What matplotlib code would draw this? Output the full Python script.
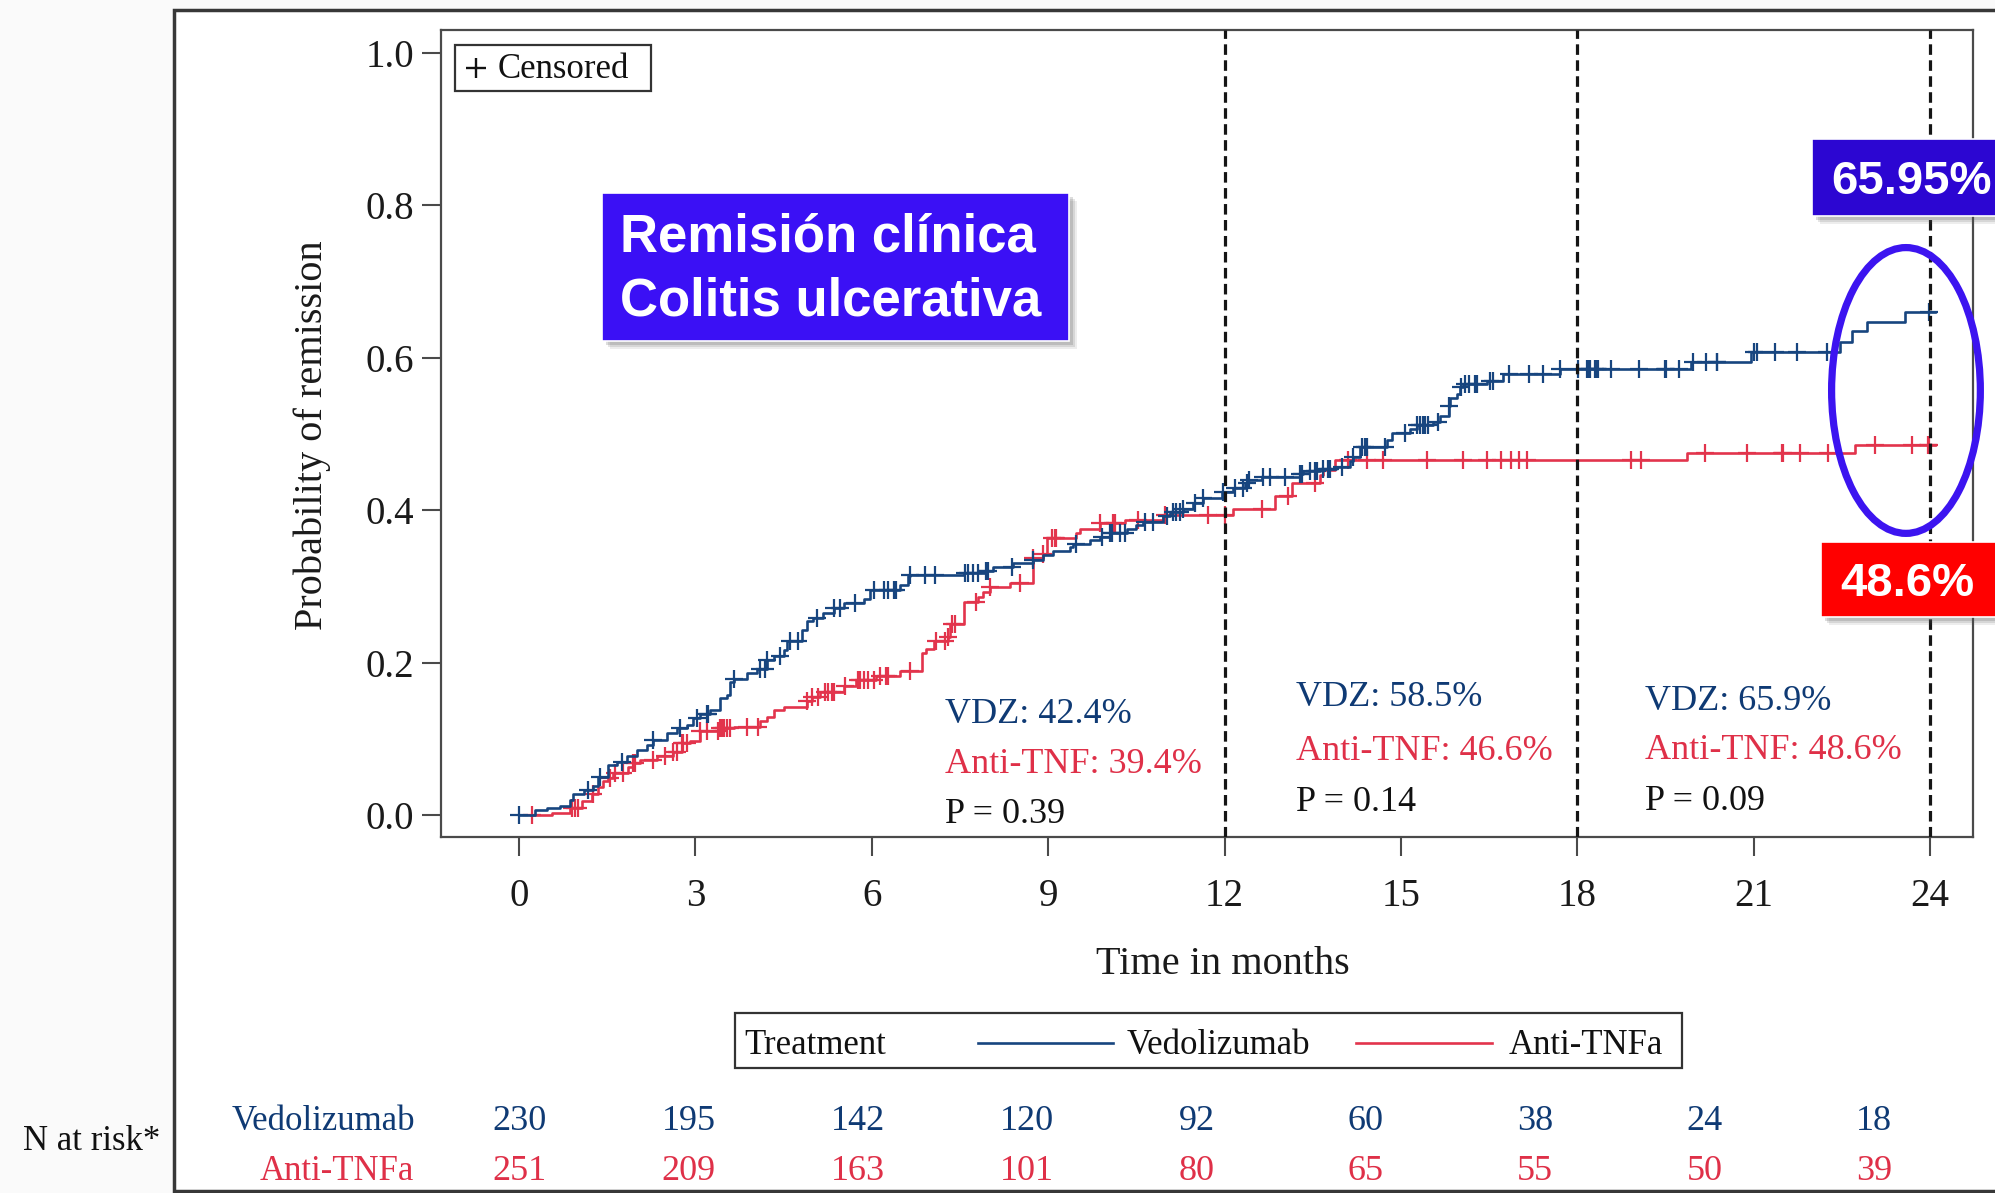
import numpy as np
import matplotlib
matplotlib.use('Agg')
import matplotlib.pyplot as plt
from matplotlib.patches import Rectangle, Ellipse
from matplotlib.lines import Line2D
from matplotlib.transforms import Affine2D

# ---------------- data ----------------
x_ticks = [0, 3, 6, 9, 12, 15, 18, 21, 24]
y_ticks = [0.0, 0.2, 0.4, 0.6, 0.8, 1.0]

vdz_time = [0, 0.27, 0.47, 0.70, 0.87, 0.92, 1.10, 1.26, 1.35, 1.52, 1.66, 1.83, 2.00, 2.17,
            2.28, 2.51, 2.68, 2.85, 2.96, 3.08, 3.25, 3.42, 3.53, 3.59, 3.65, 3.87, 4.04, 4.21,
            4.33, 4.50, 4.55, 4.81, 4.89, 5.00, 5.17, 5.35, 5.52, 5.86, 5.97, 6.48, 6.62, 6.65,
            7.56, 7.95, 8.07, 8.41, 8.75, 8.92, 9.09, 9.37, 9.43, 9.71, 9.88, 10.05, 10.34,
            10.50, 10.62, 10.96, 11.07, 11.30, 11.47, 11.64, 11.95, 12.15, 12.35, 12.40, 12.63,
            13.28, 13.34, 13.62, 13.90, 14.13, 14.19, 14.30, 14.76, 14.84, 15.16, 15.27, 15.55,
            15.67, 15.81, 15.84, 15.95, 16.00, 16.06, 16.46, 16.74, 17.70, 19.94, 20.96, 22.47,
            22.67, 22.93, 23.57]
vdz_prob = [0.0, 0.006, 0.009, 0.012, 0.020, 0.027, 0.033, 0.038, 0.050, 0.066, 0.070, 0.077,
            0.085, 0.092, 0.098, 0.107, 0.114, 0.118, 0.127, 0.133, 0.138, 0.153, 0.158, 0.175,
            0.178, 0.186, 0.192, 0.203, 0.208, 0.216, 0.228, 0.243, 0.254, 0.259, 0.265, 0.271,
            0.278, 0.284, 0.295, 0.302, 0.313, 0.315, 0.317, 0.320, 0.326, 0.330, 0.334, 0.341,
            0.346, 0.351, 0.356, 0.361, 0.365, 0.370, 0.375, 0.380, 0.385, 0.392, 0.398, 0.402,
            0.409, 0.416, 0.424, 0.429, 0.435, 0.440, 0.443, 0.448, 0.451, 0.454, 0.457, 0.464,
            0.470, 0.483, 0.492, 0.501, 0.507, 0.512, 0.516, 0.523, 0.536, 0.547, 0.553, 0.562,
            0.566, 0.570, 0.578, 0.585, 0.595, 0.607, 0.620, 0.635, 0.647, 0.660]
vdz_end = 24.08

tnf_time = [0.20, 0.56, 0.87, 1.07, 1.24, 1.35, 1.43, 1.52, 1.60, 1.86, 1.94, 2.06, 2.34, 2.62,
            2.77, 2.91, 3.08, 3.42, 3.65, 4.10, 4.21, 4.33, 4.50, 4.89, 4.98, 5.12, 5.52, 5.74,
            6.08, 6.48, 6.85, 6.93, 7.05, 7.30, 7.33, 7.56, 7.81, 7.90, 8.01, 8.35, 8.75, 8.92,
            8.98, 9.48, 9.54, 9.88, 10.31, 10.96, 12.15, 12.86, 13.14, 13.62, 13.68, 13.88,
            19.86, 22.72]
tnf_prob = [0.0, 0.003, 0.009, 0.018, 0.028, 0.037, 0.044, 0.048, 0.055, 0.063, 0.068, 0.072,
            0.077, 0.083, 0.094, 0.097, 0.110, 0.114, 0.116, 0.123, 0.129, 0.138, 0.142, 0.149,
            0.155, 0.162, 0.169, 0.177, 0.182, 0.189, 0.212, 0.218, 0.228, 0.234, 0.251, 0.280,
            0.286, 0.293, 0.299, 0.304, 0.337, 0.343, 0.363, 0.370, 0.375, 0.383, 0.387, 0.394,
            0.402, 0.418, 0.435, 0.446, 0.453, 0.466, 0.475, 0.486]
tnf_end = 24.08

vdz_censor = [0.0, 1.18, 1.38, 1.75, 2.28, 2.74, 3.02, 3.19, 3.22, 3.65, 4.10, 4.18, 4.21, 4.44,
              4.61, 4.75, 5.06, 5.35, 5.46, 5.71, 6.03, 6.20, 6.28, 6.37, 6.42, 6.65, 6.91, 7.07,
              7.59, 7.64, 7.73, 7.81, 7.95, 7.98, 8.38, 8.75, 9.48, 9.91, 10.05, 10.08, 10.22,
              10.31, 10.65, 10.79, 11.02, 11.13, 11.18, 11.24, 11.30, 11.50, 11.64, 11.98, 12.18,
              12.32, 12.38, 12.41, 12.66, 12.77, 13.03, 13.28, 13.31, 13.45, 13.54, 13.57, 13.68,
              13.76, 13.79, 13.99, 14.19, 14.33, 14.39, 14.42, 14.73, 15.07, 15.27, 15.32, 15.38,
              15.41, 15.46, 15.63, 15.81, 16.03, 16.09, 16.15, 16.26, 16.29, 16.51, 16.57, 16.83,
              17.17, 17.42, 17.70, 18.01, 18.16, 18.19, 18.21, 18.30, 18.33, 18.36, 18.58, 19.05,
              19.49, 19.50, 19.73, 19.97, 20.19, 20.37, 20.38, 21.00, 21.05, 21.36, 21.73, 22.24,
              23.99]
tnf_censor = [0.22, 0.90, 0.95, 1.01, 1.26, 1.55, 1.63, 1.77, 1.94, 1.97, 2.28, 2.48, 2.62, 2.68,
              2.77, 2.79, 2.85, 3.08, 3.19, 3.39, 3.42, 3.45, 3.48, 3.53, 3.59, 3.87, 4.07, 4.89,
              4.98, 5.09, 5.20, 5.26, 5.32, 5.35, 5.54, 5.77, 5.80, 5.86, 5.94, 6.03, 6.14, 6.25,
              6.28, 6.65, 7.10, 7.25, 7.30, 7.36, 7.41, 7.78, 8.01, 8.52, 8.75, 8.92, 9.06, 9.12,
              9.14, 9.88, 10.11, 10.14, 10.53, 10.98, 11.72, 12.01, 12.63, 13.08, 13.54, 14.10,
              14.42, 14.70, 15.44, 16.06, 16.46, 16.71, 16.88, 17.00, 17.14, 18.92, 19.09, 20.17,
              20.88, 21.48, 21.49, 21.79, 22.27, 23.06, 23.69, 23.97, 23.99]

landmarks = [12, 18, 24]
vdz_labels = ['VDZ: 42.4%', 'VDZ: 58.5%', 'VDZ: 65.9%']
tnf_labels = ['Anti-TNF: 39.4%', 'Anti-TNF: 46.6%', 'Anti-TNF: 48.6%']
p_labels = ['P = 0.39', 'P = 0.14', 'P = 0.09']

risk_months = [0, 3, 6, 9, 12, 15, 18, 21, 24]
risk_vdz = [230, 195, 142, 120, 92, 60, 38, 24, 18]
risk_tnf = [251, 209, 163, 101, 80, 65, 55, 50, 39]

title_lines = ['Remisión clínica', 'Colitis ulcerativa']
vdz_final_label = '65.95%'
tnf_final_label = '48.6%'

# ---------------- style ----------------
BLUE = '#17457f'
RED = '#e2344c'
BLUE_T = '#0f3a74'
RED_T = '#df3048'
SERIF = ['Liberation Serif', 'DejaVu Serif']
SANS = ['Liberation Sans', 'DejaVu Sans']

W, H = 1995, 1193
fig = plt.figure(figsize=(W / 100, H / 100), dpi=100)
fig.patch.set_facecolor('#fafafa')
PX = Affine2D().scale(1.0 / W, -1.0 / H).translate(0, 1) + fig.transFigure

# outer frame
fig.add_artist(Rectangle((174, 10), W - 174 + 20, 1181, transform=PX, facecolor='white',
                         edgecolor='#383838', lw=2.5, zorder=-5))

# main axes
ax = fig.add_axes([441 / W, 1 - 837 / H, (1973 - 441) / W, (837 - 30) / H])
ax.set_xlim(-1.327, 24.73)
ax.set_ylim(-0.0289, 1.030)
for s in ax.spines.values():
    s.set_color('#4a4a4a')
    s.set_linewidth(1.6)
ax.set_xticks(x_ticks)
ax.set_xticklabels([str(v) for v in x_ticks])
ax.set_yticks(y_ticks)
ax.set_yticklabels(['%.1f' % v for v in y_ticks])
ax.tick_params(direction='out', length=13.5, width=1.5, color='#4a4a4a', labelsize=28,
               labelcolor='#1a1a1a')
ax.tick_params(axis='y', pad=6)
ax.tick_params(axis='x', pad=16)
for lab in ax.get_xticklabels() + ax.get_yticklabels():
    lab.set_family(SERIF)

# step curves
def step_at(times, probs, t):
    times = np.asarray(times)
    probs = np.asarray(probs)
    idx = np.searchsorted(times, t, side='right') - 1
    return probs[np.clip(idx, 0, len(probs) - 1)]

tv = np.append(vdz_time, vdz_end)
pv = np.append(vdz_prob, vdz_prob[-1])
tt = np.append(tnf_time, tnf_end)
pt = np.append(tnf_prob, tnf_prob[-1])
ax.step(tt, pt, where='post', color=RED, lw=1.9, zorder=3)
ax.step(tv, pv, where='post', color=BLUE, lw=1.9, zorder=4)
ax.plot(tnf_censor, step_at(tnf_time, tnf_prob, tnf_censor), ls='none', marker='+', ms=13,
        mew=1.6, color=RED, zorder=3)
ax.plot(vdz_censor, step_at(vdz_time, vdz_prob, vdz_censor), ls='none', marker='+', ms=13,
        mew=1.6, color=BLUE, zorder=4)

# landmark dashed lines
for m in landmarks:
    ax.axvline(m, color='#151515', lw=2.3, dashes=(3.3, 1.7), zorder=5)

# landmark annotations
ann_pos = [(7.24, 0.132, 0.066, 0.001), (13.21, 0.154, 0.083, 0.016), (19.15, 0.149, 0.085, 0.018)]
for (x, y1, y2, y3), a, b, c in zip(ann_pos, vdz_labels, tnf_labels, p_labels):
    ax.text(x, y1, a, color=BLUE_T, fontsize=26, family=SERIF, va='center', ha='left')
    ax.text(x, y2, b, color=RED_T, fontsize=26, family=SERIF, va='center', ha='left')
    ax.text(x, y3, c, color='#111111', fontsize=26, family=SERIF, va='center', ha='left')

# ellipse highlight
ax.add_patch(Ellipse((23.59, 0.557), 2.53, 0.375, fill=False, edgecolor='#3c14f0', lw=5.2,
                     clip_on=False, zorder=8))

# axis labels
fig.text(312 / W, 1 - 435 / H, 'Probability of remission', rotation=90, ha='center', va='center',
         fontsize=29, family=SERIF, color='#1a1a1a')
fig.text(1223 / W, 1 - 964 / H, 'Time in months', ha='center', va='center', fontsize=29,
         family=SERIF, color='#1a1a1a')

# censored legend
fig.add_artist(Rectangle((455, 45), 196, 46, transform=PX, facecolor='white', edgecolor='#333333',
                         lw=1.6, zorder=6))
fig.add_artist(Line2D([476], [68], transform=PX, marker='+', ms=14, mew=1.7, color='#111111',
                      ls='none', zorder=7))
fig.text(498 / W, 1 - 70 / H, 'Censored', ha='left', va='center', fontsize=25, family=SERIF,
         color='#111111', zorder=7)

# shaded boxes helper
def shadow_box(x, y, w, h, fc):
    for off, al in [(8, 0.10), (6, 0.15), (4, 0.2)]:
        fig.add_artist(Rectangle((x + off, y + off), w, h, transform=PX, facecolor='#555555',
                                 edgecolor='none', alpha=al, zorder=9))
    fig.add_artist(Rectangle((x, y), w, h, transform=PX, facecolor=fc, edgecolor='white',
                             lw=1.2, zorder=10))

shadow_box(602, 193, 467, 148, '#3b10f5')
fig.text(620 / W, 1 - 238 / H, title_lines[0], ha='left', va='center', fontsize=38,
         fontweight='bold', family=SANS, color='white', zorder=11)
fig.text(620 / W, 1 - 301 / H, title_lines[1], ha='left', va='center', fontsize=38,
         fontweight='bold', family=SANS, color='white', zorder=11)

shadow_box(1812, 139, 200, 77, '#2c06d2')
fig.text(1831 / W, 1 - 182 / H, vdz_final_label, ha='left', va='center', fontsize=34,
         fontweight='bold', family=SANS, color='white', zorder=11)

shadow_box(1821, 542, 200, 75, '#ff0000')
fig.text(1840 / W, 1 - 584 / H, tnf_final_label, ha='left', va='center', fontsize=34,
         fontweight='bold', family=SANS, color='white', zorder=11)

# treatment legend
fig.add_artist(Rectangle((735, 1013), 947, 55, transform=PX, facecolor='white',
                         edgecolor='#333333', lw=1.6, zorder=6))
fig.text(744 / W, 1 - 1046 / H, 'Treatment', ha='left', va='center', fontsize=25, family=SERIF,
         color='#111111', zorder=7)
fig.add_artist(Line2D([978, 1113], [1043, 1043], transform=PX, color=BLUE, lw=1.9, zorder=7))
fig.text(1127 / W, 1 - 1046 / H, 'Vedolizumab', ha='left', va='center', fontsize=25,
         family=SERIF, color='#111111', zorder=7)
fig.add_artist(Line2D([1356, 1492], [1043, 1043], transform=PX, color=RED, lw=1.9, zorder=7))
fig.text(1509 / W, 1 - 1046 / H, 'Anti-TNFa', ha='left', va='center', fontsize=25, family=SERIF,
         color='#111111', zorder=7)

# risk table
rt = fig.add_axes([441 / W, 1 - 1190 / H, (1973 - 441) / W, 100 / H])
rt.set_xlim((441 - 519) / 56.46, (1973 - 519) / 56.46)
rt.set_ylim(0, 1)
rt.axis('off')
rt.patch.set_alpha(0)
for m, a, b in zip(risk_months, risk_vdz, risk_tnf):
    rt.text(m, 0.69, str(a), ha='center', va='center', fontsize=26, family=SERIF, color=BLUE_T)
    rt.text(m, 0.19, str(b), ha='center', va='center', fontsize=26, family=SERIF, color=RED_T)
fig.text(415 / W, 1 - 1121 / H, 'Vedolizumab', ha='right', va='center', fontsize=25,
         family=SERIF, color=BLUE_T)
fig.text(414 / W, 1 - 1171 / H, 'Anti-TNFa', ha='right', va='center', fontsize=25,
         family=SERIF, color=RED_T)
fig.text(23 / W, 1 - 1142 / H, 'N at risk*', ha='left', va='center', fontsize=25, family=SERIF,
         color='#111111')

fig.savefig('out.png', dpi=100, facecolor=fig.get_facecolor())
